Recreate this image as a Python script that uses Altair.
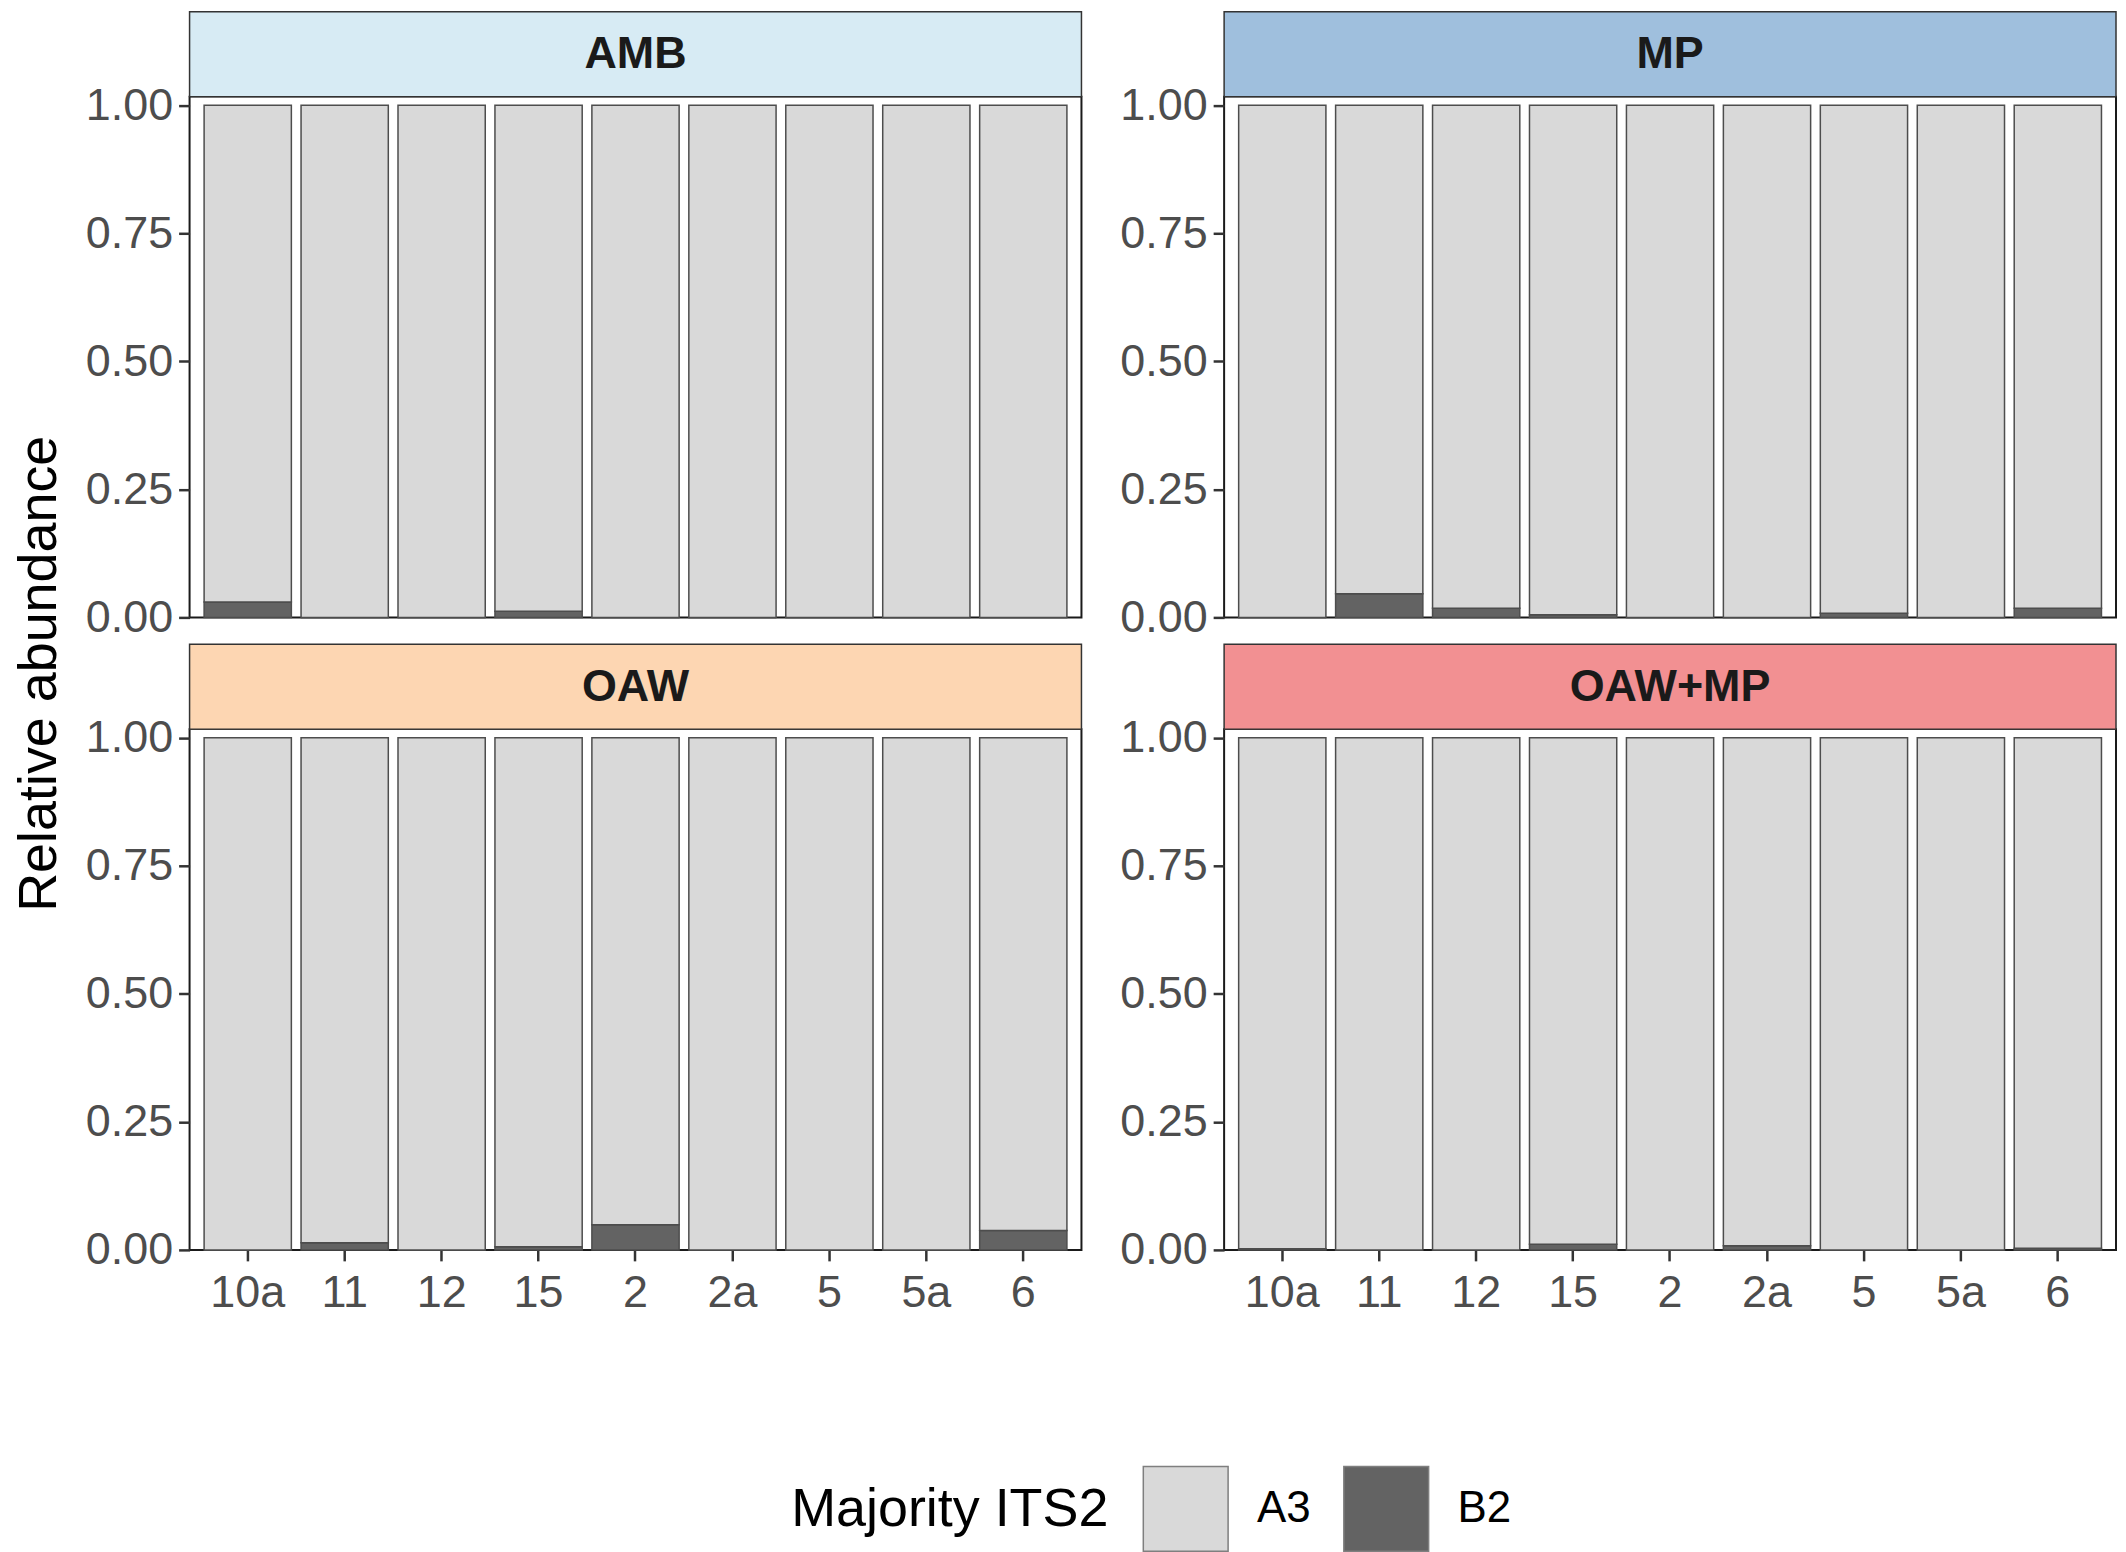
import altair as alt
import pandas as pd

samples = ["10a", "11", "12", "15", "2", "2a", "5", "5a", "6"]
treatments = ["AMB", "MP", "OAW", "OAW+MP"]
b2_amb = [0.030, 0.0, 0.0, 0.012, 0.0, 0.0, 0.0, 0.0, 0.0]
b2_mp = [0.0, 0.046, 0.018, 0.005, 0.0, 0.0, 0.008, 0.0, 0.018]
b2_oaw = [0.0, 0.014, 0.0, 0.006, 0.049, 0.0, 0.0, 0.0, 0.038]
b2_oawmp = [0.002, 0.0, 0.0, 0.011, 0.0, 0.008, 0.0, 0.0, 0.003]
strip_colors = ["#D7EBF4", "#9FBFDD", "#FDD6B2", "#F29092"]
types = ["A3", "B2"]
type_colors = ["#D9D9D9", "#636363"]
tick_values = [0, 0.25, 0.5, 0.75, 1.0]

b2_all = [b2_amb, b2_mp, b2_oaw, b2_oawmp]

W = 894
H = 522
STRIP = 85
FONT = "Liberation Sans"


def panel_data(b2):
    rows = []
    for s, v in zip(samples, b2):
        rows.append({"sample": s, "type": "B2", "lo": 0.0, "hi": v})
        rows.append({"sample": s, "type": "A3", "lo": v, "hi": 1.0})
    return pd.DataFrame(rows)


def panel(i):
    t = treatments[i]
    bottom = i >= 2
    first = i == 0
    df = panel_data(b2_all[i])

    x_axis = (
        alt.Axis(
            title=None, labelAngle=0, labelFontSize=45, labelColor="#4D4D4D",
            tickColor="#333333", tickSize=11, tickWidth=2.5, labelPadding=10,
            domain=False, grid=False,
        )
        if bottom
        else None
    )
    y_axis_kwargs = dict(
        values=tick_values, format=".2f", labelFontSize=45, labelColor="#4D4D4D",
        tickColor="#333333", tickSize=11, tickWidth=2.5, labelPadding=6,
        domain=False, grid=False,
    )
    if first:
        y_axis = alt.Axis(
            title="Relative abundance", titleFontSize=54, titleFontWeight="normal",
            titleColor="#000000", titleAngle=270, titleX=-150, titleY=578,
            titleAlign="center", titleBaseline="middle", **y_axis_kwargs,
        )
    else:
        y_axis = alt.Axis(title=None, **y_axis_kwargs)

    bars = alt.Chart(df).mark_bar(stroke="#4D4D4D", strokeWidth=1.5).encode(
        x=alt.X("sample:N", sort=samples,
                scale=alt.Scale(paddingInner=0.1, paddingOuter=0.15), axis=x_axis),
        y=alt.Y("lo:Q", scale=alt.Scale(domain=[0, 1.017], nice=False, zero=False),
                axis=y_axis),
        y2="hi:Q",
        color=alt.Color(
            "type:N", scale=alt.Scale(domain=types, range=type_colors),
            legend=alt.Legend(
                title="Majority ITS2", orient="none", legendX=603, legendY=1372,
                direction="horizontal", titleOrient="left", titleFontSize=54,
                titleFontWeight="normal", titleColor="#000000", titleLimit=800,
                labelFontSize=44, labelColor="#000000", labelLimit=300,
                symbolType="square", symbolSize=7225,
                symbolStrokeColor="#7F7F7F", symbolStrokeWidth=1.5, symbolOpacity=1,
                labelOffset=28, columnPadding=30, titlePadding=33,
                titleBaseline="middle",
            ),
        ),
    )

    sdf = pd.DataFrame({"label": [t]})
    strip_bg = alt.Chart(sdf).mark_rect(
        fill=strip_colors[i], stroke="#333333", strokeWidth=1.5
    ).encode(
        x=alt.value(0), x2=alt.value(W), y=alt.value(-STRIP), y2=alt.value(0)
    )
    strip_txt = alt.Chart(sdf).mark_text(
        fontSize=45, fontWeight="bold", color="#1A1A1A", baseline="middle", align="center"
    ).encode(x=alt.value(W / 2), y=alt.value(-STRIP / 2), text="label:N")

    return alt.layer(strip_bg, bars, strip_txt).properties(width=W, height=H)


chart = alt.concat(
    panel(0), panel(1), panel(2), panel(3),
    columns=2, spacing={"row": 112, "column": 143}, bounds="flush",
).configure(
    font=FONT, padding={"left": 4, "top": 0, "right": 0, "bottom": 0}
).configure_view(stroke="#1A1A1A", strokeWidth=2)

chart.save("out.html", embed_options={"renderer": "svg", "actions": False})
